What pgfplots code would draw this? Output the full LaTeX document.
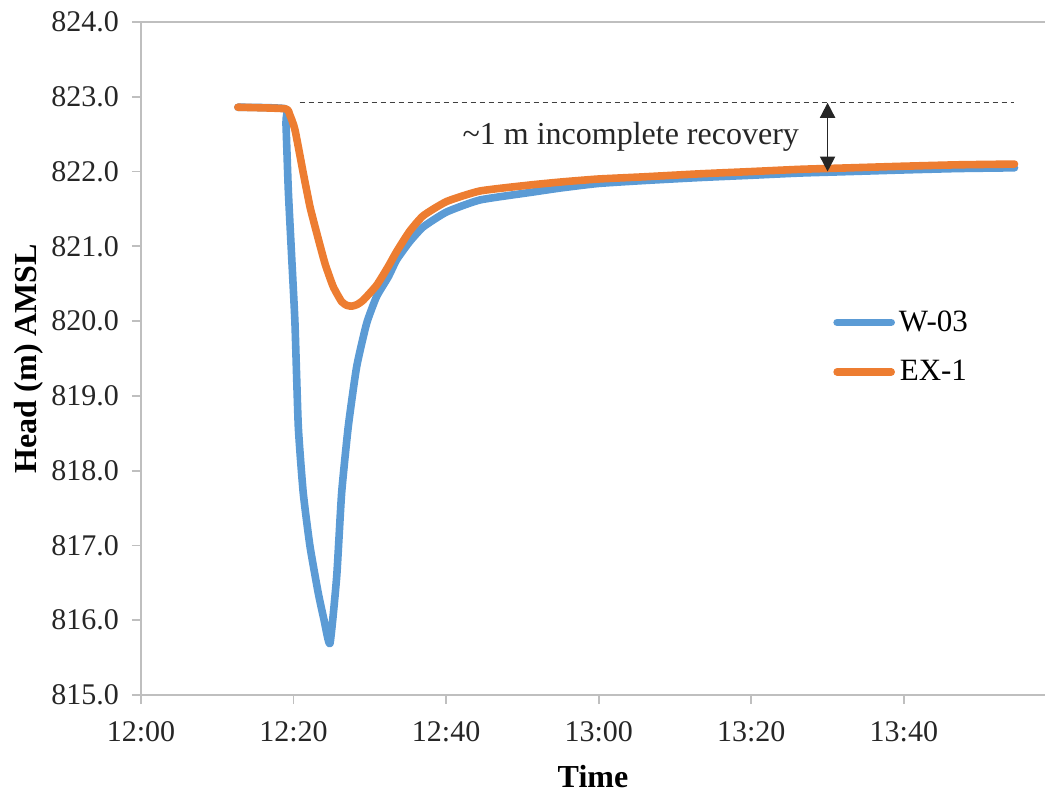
\documentclass[border=0pt]{standalone}
\usepackage{pgfplots}
\pgfplotsset{compat=1.18}
\usepackage{fontspec}
\setmainfont{Liberation Serif}
\usetikzlibrary{arrows.meta}
\definecolor{cblue}{HTML}{5B9BD5}
\definecolor{corange}{HTML}{ED7D31}
\definecolor{axgray}{HTML}{BFBFBF}
\begin{document}
\begin{tikzpicture}
\begin{axis}[
  name=ax,
  scale only axis,
  width=452pt, height=336.5pt,
  xmin=0, xmax=118.5, ymin=815, ymax=824,
  axis line style={axgray, line width=0.9pt},
  axis x line*=bottom, axis y line*=left,
  xtick={0,20,40,60,80,100},
  xticklabels={12:00,12:20,12:40,13:00,13:20,13:40},
  ytick={815,816,...,824},
  yticklabel={\pgfmathprintnumber[fixed,fixed zerofill,precision=1,use period,1000 sep={}]{\tick}},
  /pgf/number format/assume math mode=true,
  tick style={axgray, line width=0.9pt},
  tick align=outside, major tick length=4.5pt,
  ticklabel style={font=\fontsize{15}{18}\selectfont, text=black!85},
  xticklabel style={yshift=-5pt},
  yticklabel style={xshift=-3pt},
  xlabel={\textbf{Time}}, ylabel={\textbf{Head (m) AMSL}},
  label style={font=\fontsize{16}{19}\selectfont},
  xlabel style={yshift=-5pt},
  ylabel style={yshift=-3pt},
  legend style={at={(axis cs:90.7,820.2)}, anchor=north west, draw=none, fill=none,
    font=\fontsize{15.5}{18}\selectfont, row sep=9pt, inner sep=0pt},
  legend image code/.code={\draw[#1, line cap=round] (0cm,0cm) -- (0.95cm,0cm);},
  clip=false,
]
\draw[axgray, line width=0.9pt] (rel axis cs:0,1) -- (rel axis cs:1,1);
\addplot[cblue, line width=3.8pt, line join=round, line cap=round, smooth, tension=0.3] coordinates {
(12.7,822.86) (18.87,822.84) (19.0,822.65) (19.31,821.75) (19.75,820.86)
(20.18,819.98) (20.62,818.59) (21.27,817.70) (22.15,816.99) (23.24,816.36)
(23.98,816.01) (24.77,815.69) (25.65,816.58) (26.30,817.70) (27.17,818.59)
(28.27,819.39) (29.58,819.97) (30.89,820.33) (32.41,820.59) (33.51,820.82)
(35.2,821.06) (37.0,821.26) (40.07,821.46) (44.43,821.62) (50.98,821.72)
(55.0,821.78) (59.9,821.84) (66,821.88) (73.3,821.92) (80,821.95) (86.4,821.98)
(93,822.00) (99.5,822.02) (107,822.04) (114.5,822.05)
};
\addlegendentry{W-03}
\addplot[corange, line width=3.8pt, line join=round, line cap=round, smooth, tension=0.3] coordinates {
(12.7,822.86) (18.87,822.84) (19.5,822.76) (20.18,822.56) (21.27,821.98)
(22.15,821.53) (23.03,821.18) (24.12,820.77) (25.20,820.46) (26.30,820.26)
(27.0,820.21) (27.62,820.20) (28.3,820.22) (29.13,820.28) (30.89,820.48) (32.41,820.73)
(33.51,820.93) (35.2,821.20) (37.0,821.41) (40.07,821.60) (44.43,821.74) (50.98,821.82)
(55.0,821.86) (59.9,821.90) (66,821.93) (73.3,821.97) (80,822.00) (86.4,822.03)
(93,822.05) (99.5,822.07) (107,822.09) (114.5,822.10)
};
\addlegendentry{EX-1}
\draw[black!75, line width=0.7pt, dash pattern=on 2.5pt off 2pt] (axis cs:20.8,822.92) -- (axis cs:114.5,822.92);
\draw[black!85, line width=0.9pt, {Triangle[width=7.5pt,length=7.5pt]}-{Triangle[width=7.5pt,length=7.5pt]}] (axis cs:90.0,822.92) -- (axis cs:90.0,822.0);
\node[font=\fontsize{16}{19}\selectfont, text=black!85] at (axis cs:64.2,822.47) {\textasciitilde 1 m incomplete recovery};
\end{axis}
\path ([shift={(-70.5pt,-48pt)}]ax.south west) rectangle ([shift={(0.5pt,11pt)}]ax.north east);
\end{tikzpicture}
\end{document}
